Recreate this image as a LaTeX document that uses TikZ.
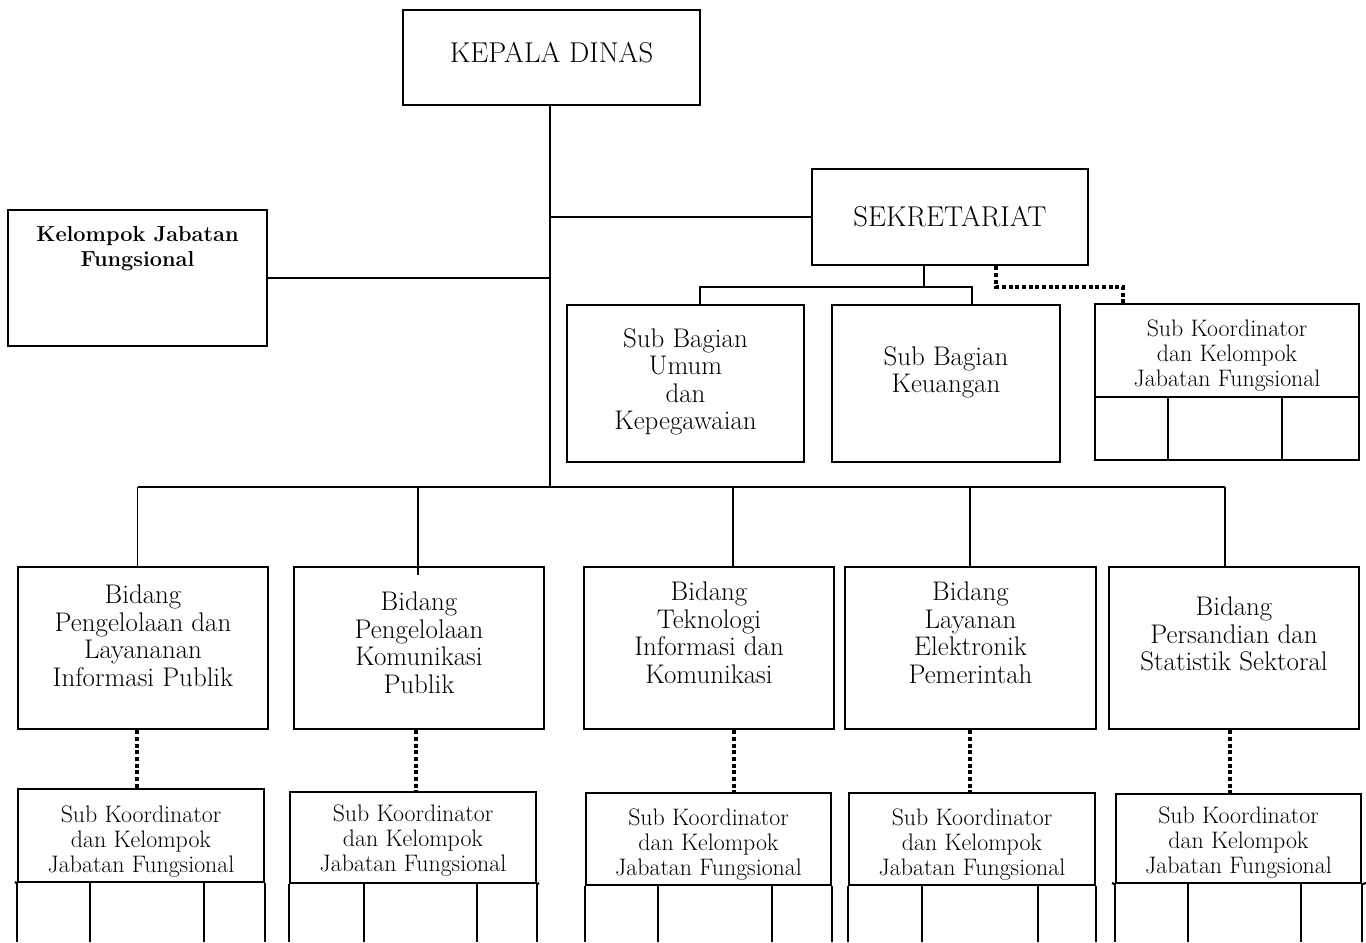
\documentclass[tikz,border=0pt]{standalone}
\usepackage{fontspec}
\usetikzlibrary{fit}
\tikzset{
  box/.style={draw, line width=1.8pt, inner sep=0pt, rectangle},
  conn/.style={line width=1.4pt},
  thinbox/.style={line width=1.6pt},
  dotline/.style={line width=2.5pt, dash pattern=on 3pt off 2pt},
  bigtxt/.style={inner sep=0pt, anchor=base, font=\fontsize{21.5}{24}\selectfont},
  bidtxt/.style={align=center, inner sep=0pt, anchor=north, font=\fontsize{20.2}{20.6}\selectfont},
  sktxt/.style={align=center, inner sep=0pt, anchor=north, font=\fontsize{17.9}{18.4}\selectfont},
  kjtxt/.style={align=center, inner sep=0pt, anchor=north, font=\fontsize{16.3}{18.7}\selectfont\bfseries},
}
\begin{document}
\begin{tikzpicture}[x=0.75pt,y=-0.75pt]
\useasboundingbox (0,0) rectangle (1366,942);
\coordinate (bot) at (0,942);

% ---------- top level ----------
\node[box, fit={(403,10) (700,105)}] (kd) {};
\node[bigtxt] (kdt) at (551.5,63) {KEPALA DINAS};

\node[box, fit={(812,169) (1088,265)}] (sek) {};
\node[bigtxt] (sekt) at (950,226) {SEKRETARIAT};

\node[box, fit={(8,210) (267,346)}] (kjf) {};
\node[kjtxt] (kjft) at (137.5,226) {Kelompok Jabatan\\Fungsional};

% ---------- sekretariat children ----------
\node[box, fit={(567,305) (804,462)}] (sbu) {};
\node[bidtxt] (sbut) at (685.5,328) {Sub Bagian\\Umum\\dan\\Kepegawaian};

\node[box, fit={(832,305) (1060,462)}] (sbk) {};
\node[bidtxt] (sbkt) at (946,346) {Sub Bagian\\Keuangan};

\node[box, fit={(1095,304) (1359,397)}] (sks) {};
\node[sktxt] (skst) at (1227,320) {Sub Koordinator\\dan Kelompok\\Jabatan Fungsional};
\node[box, fit={(1095,397) (1359,460)}] (sksl) {};
\draw[thinbox] (1168,397) -- (1168,460);
\draw[thinbox] (1282,397) -- (1282,460);

% ---------- bidang ----------
\node[box, fit={(18,567) (268,729)}] (b1) {};
\node[bidtxt] (b1t) at (143,585) {Bidang\\Pengelolaan dan\\Layananan\\Informasi Publik};
\node[box, fit={(294,567) (544,729)}] (b2) {};
\node[bidtxt] (b2t) at (419,592) {Bidang\\Pengelolaan\\Komunikasi\\Publik};
\node[box, fit={(584,567) (834,729)}] (b3) {};
\node[bidtxt] (b3t) at (709,582) {Bidang\\Teknologi\\Informasi dan\\Komunikasi};
\node[box, fit={(845,567) (1096,729)}] (b4) {};
\node[bidtxt] (b4t) at (970.5,582) {Bidang\\Layanan\\Elektronik\\Pemerintah};
\node[box, fit={(1109,567) (1359,729)}] (b5) {};
\node[bidtxt] (b5t) at (1234,597) {Bidang\\Persandian dan\\Statistik Sektoral};

% ---------- sub koordinator under bidang ----------
\node[box, fit={(18,789) (264,882)}] (k1) {};
\node[sktxt] (k1t) at (141,806) {Sub Koordinator\\dan Kelompok\\Jabatan Fungsional};
\node[box, fit={(290,792) (536,883)}] (k2) {};
\node[sktxt] (k2t) at (413,805) {Sub Koordinator\\dan Kelompok\\Jabatan Fungsional};
\node[box, fit={(586,793) (831,885)}] (k3) {};
\node[sktxt] (k3t) at (708.5,809) {Sub Koordinator\\dan Kelompok\\Jabatan Fungsional};
\node[box, fit={(849,793) (1095,885)}] (k4) {};
\node[sktxt] (k4t) at (972,809) {Sub Koordinator\\dan Kelompok\\Jabatan Fungsional};
\node[box, fit={(1116,794) (1361,883)}] (k5) {};
\node[sktxt] (k5t) at (1238.5,807) {Sub Koordinator\\dan Kelompok\\Jabatan Fungsional};

% lower open cells
\foreach \k/\a/\b in {k1/90/204, k2/364/477, k3/658/772, k4/922/1038, k5/1188/1301}{
  \draw[box] (\k.south west) -- (\k.south west |- bot);
  \draw[box] (\k.south east) -- (\k.south east |- bot);
  \draw[thinbox] (\a,0 |- \k.south) -- (\a,942);
  \draw[thinbox] (\b,0 |- \k.south) -- (\b,942);
}
\draw[thinbox] (15,882) -- (k1.south west);
\draw[thinbox] (k2.south east) -- (539,883);
\draw[thinbox] (1112,883) -- (k5.south west);
\draw[thinbox] (k5.south east) -- (1366,883);

% ---------- connectors ----------
\coordinate (tr) at (550,487);
\draw[conn] (kd.south -| tr) -- (tr);
\draw[conn] (sek.west -| tr) -- (sek.west);
\draw[conn] (kjf.east) -- (kjf.east -| tr);

\coordinate (sd) at (924,287);
\coordinate (sbL) at (700,287);
\coordinate (sbR) at (972,287);
\draw[conn] (sd |- sek.south) -- (sd);
\draw[conn] (sbL |- sbu.north) -- (sbL) -- (sbR) -- (sbR |- sbk.north);

\coordinate (q1) at (996,287);
\coordinate (q2) at (1123,287);
\draw[dotline] (q1 |- sek.south) -- (q1) -- (q2) -- (q2 |- sks.north);

\coordinate (d1) at (137.5,487);
\coordinate (d2) at (418,487);
\coordinate (d3) at (733,487);
\coordinate (d4) at (970,487);
\coordinate (d5) at (1225,487);
\coordinate (p2) at (0,575);
\draw[conn] (d1) -- (d5);
\foreach \i in {1,3,4,5}{
  \draw[conn] (d\i) -- (d\i |- b\i.north);
}
\draw[conn] (d2) -- (d2 |- p2);

\coordinate (e1) at (137,760);
\coordinate (e2) at (416,760);
\coordinate (e3) at (734,760);
\coordinate (e4) at (970,760);
\coordinate (e5) at (1230,760);
\foreach \i in {1,...,5}{
  \draw[dotline] (e\i |- b\i.south) -- (e\i |- k\i.north);
}
\end{tikzpicture}
\end{document}
